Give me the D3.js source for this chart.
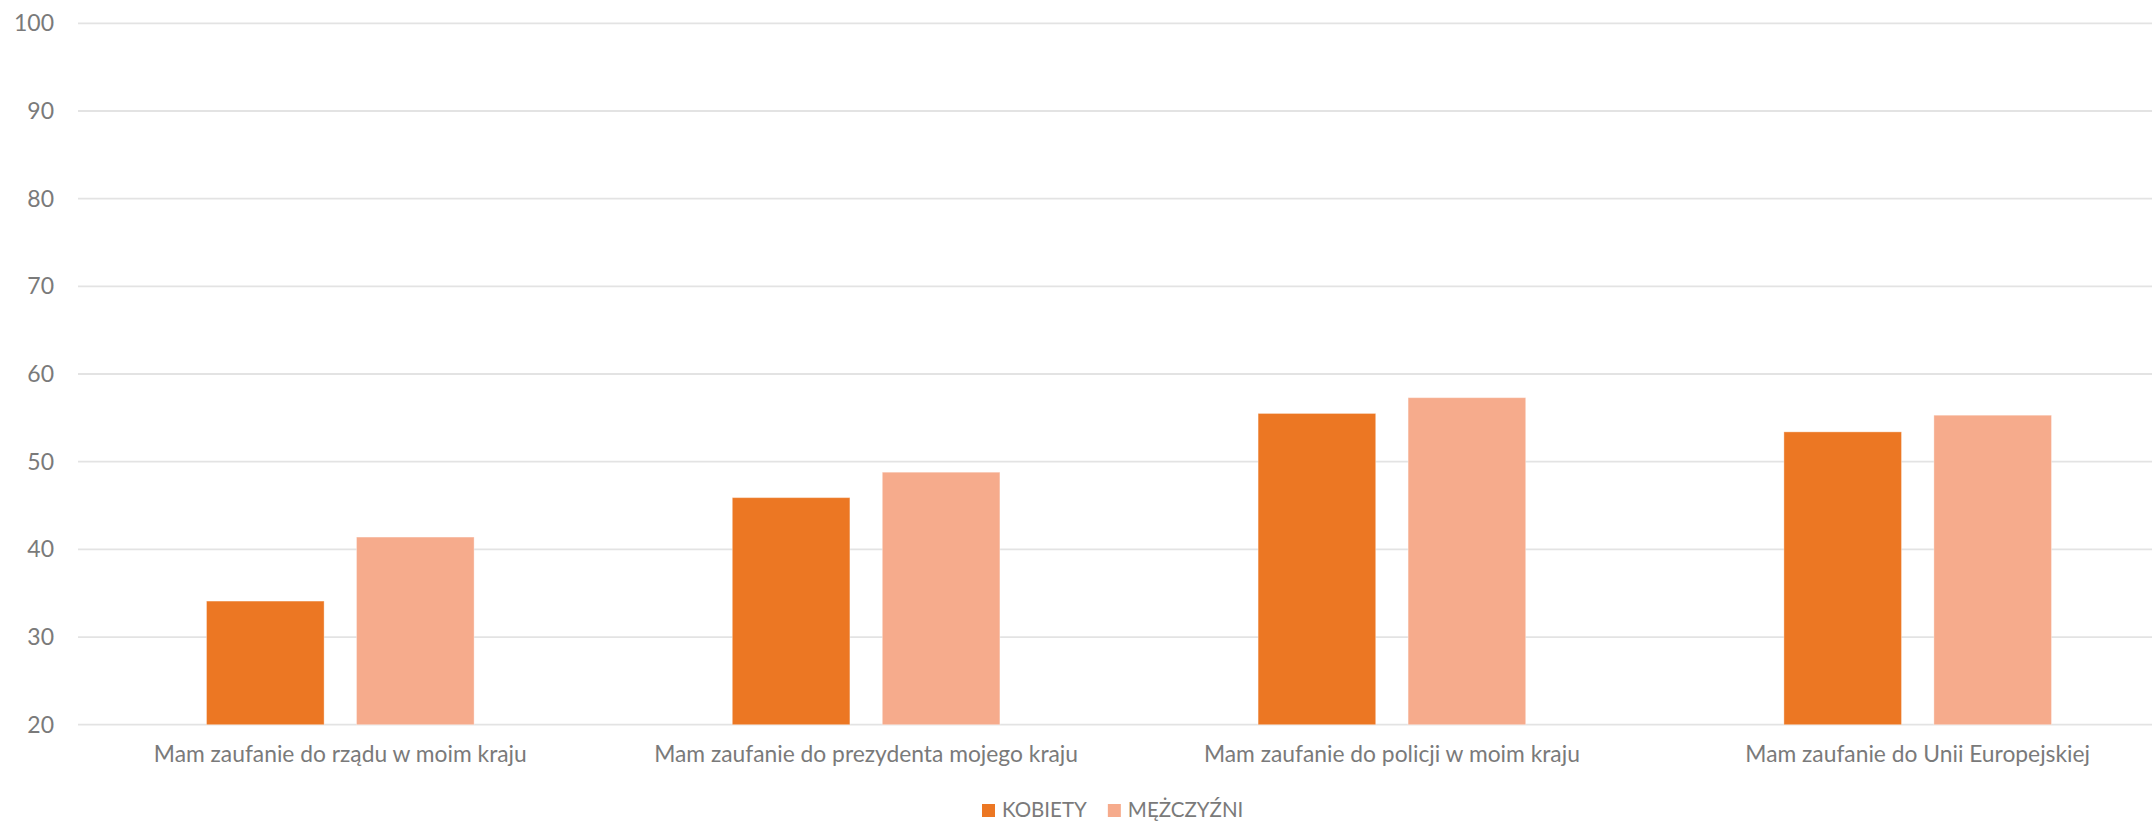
<!DOCTYPE html>
<html>
<head>
<meta charset="utf-8">
<script src="https://cdn.jsdelivr.net/npm/d3@7"></script>
<style>
  html, body { margin: 0; padding: 0; background: #fff; }
  svg { display: block; }
  text { font-family: Lato, "Open Sans", sans-serif; fill: #7a7a7a; }
</style>
</head>
<body>
<svg id="chart" width="2152" height="821"></svg>
<script>
const categories = [
  "Mam zaufanie do rządu w moim kraju",
  "Mam zaufanie do prezydenta mojego kraju",
  "Mam zaufanie do policji w moim kraju",
  "Mam zaufanie do Unii Europejskiej"
];
const seriesNames = ["KOBIETY", "MĘŻCZYŹNI"];
const kobiety = [34.1, 45.9, 55.5, 53.4];
const mezczyzni = [41.4, 48.8, 57.3, 55.3];
const yTicks = [20, 30, 40, 50, 60, 70, 80, 90, 100];
const colors = ["#EC7723", "#F6AB8C"];

const seriesValues = [kobiety, mezczyzni];
const svg = d3.select("#chart");

const x0 = d3.scaleBand().domain(categories).range([77.4, 2180.6]).padding(0);
const x1 = d3.scaleBand().domain(seriesNames).range([0, x0.bandwidth()])
  .paddingInner(0.216).paddingOuter(0.8607);
const y = d3.scaleLinear().domain([20, 100]).range([724.7, 23.3]);

// gridlines
svg.append("g").selectAll("line").data(yTicks).join("line")
  .attr("x1", 78).attr("x2", 2152)
  .attr("y1", d => y(d)).attr("y2", d => y(d))
  .attr("stroke", "#e3e3e3").attr("stroke-width", 1.8);

// y tick labels
svg.append("g").selectAll("text").data(yTicks).join("text")
  .attr("x", 54).attr("y", d => y(d) + 8)
  .attr("text-anchor", "end")
  .attr("font-size", 23)
  .text(d => d);

// bars
const g = svg.append("g");
categories.forEach((c, i) => {
  seriesNames.forEach((s, j) => {
    const v = seriesValues[j][i];
    g.append("rect")
      .attr("x", x0(c) + x1(s))
      .attr("y", y(v))
      .attr("width", x1.bandwidth())
      .attr("height", y(20) - y(v))
      .attr("fill", colors[j])
      .attr("stroke", "#ffffff").attr("stroke-opacity", 0.35).attr("stroke-width", 1);
  });
});

// category labels
svg.append("g").selectAll("text").data(categories).join("text")
  .attr("x", d => x0(d) + x0.bandwidth() / 2)
  .attr("y", 762)
  .attr("text-anchor", "middle")
  .attr("font-size", 22.8)
  .text(d => d);

// legend
const leg = svg.append("g");
let lx = 982;
seriesNames.forEach((s, j) => {
  leg.append("rect").attr("x", lx).attr("y", 804).attr("width", 13).attr("height", 13)
    .attr("fill", colors[j]);
  const t = leg.append("text").attr("x", lx + 20).attr("y", 817)
    .attr("font-size", 20.5).text(s);
  const w = t.node().getComputedTextLength();
  lx = lx + 20 + w + 21;
});
</script>
</body>
</html>
